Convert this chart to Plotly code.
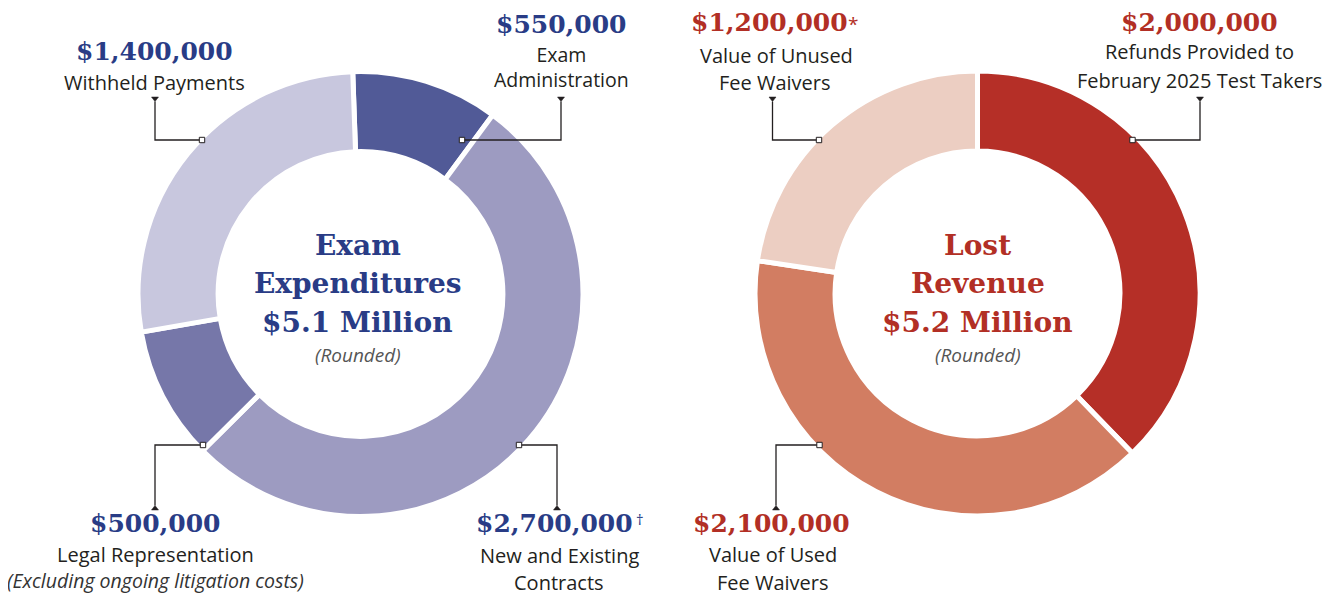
import plotly.graph_objects as go

# page body has an 8px margin; figure is sized to fit the 1333x596 window
OFF = 8
FW, FH = 1333 - OFF, 596 - OFF

# ---------------- data ----------------
exp_labels = ["Exam Administration", "New and Existing Contracts",
              "Legal Representation", "Withheld Payments"]
exp_values = [550000, 2700000, 500000, 1400000]
exp_colors = ["#515a97", "#9d9bc1", "#7677a9", "#c8c7de"]

rev_labels = ["Refunds Provided to February 2025 Test Takers",
              "Value of Used Fee Waivers", "Value of Unused Fee Waivers"]
rev_values = [2000000, 2100000, 1200000]
rev_colors = ["#b52f27", "#d27d62", "#eccec2"]

exp_title = ["Exam", "Expenditures", "$5.1 Million"]
rev_title = ["Lost", "Revenue", "$5.2 Million"]

BLUE = "#293c86"
RED = "#b22f25"
DARK = "#231f20"
SLAB = "DejaVu Serif"
SANS = "Open Sans"


def px(x):
    return (x - OFF) / FW


def py(y):
    return 1 - (y - OFF) / FH


def money(v):
    return "${:,.0f}".format(v)


# ---------------- donuts ----------------
R = 222.5
centers = [(360.5, 294.0), (977.5, 293.5)]


def domain(c):
    cx, cy = c
    return dict(x=[px(cx - R), px(cx + R)], y=[py(cy + R), py(cy - R)])


fig = go.Figure()
fig.add_trace(go.Pie(labels=exp_labels, values=exp_values, sort=False,
                     direction="clockwise", rotation=-2, hole=0.64,
                     marker=dict(colors=exp_colors, line=dict(color="white", width=5)),
                     textinfo="none", hoverinfo="label+value",
                     domain=domain(centers[0]), showlegend=False))
fig.add_trace(go.Pie(labels=rev_labels, values=rev_values, sort=False,
                     direction="clockwise", rotation=0, hole=0.64,
                     marker=dict(colors=rev_colors, line=dict(color="white", width=5)),
                     textinfo="none", hoverinfo="label+value",
                     domain=domain(centers[1]), showlegend=False))

annotations = []


def ann(text, x, y, size, color, family, weight="normal", style="normal", yanchor="middle"):
    annotations.append(dict(text=text, x=px(x), y=py(y), xref="paper", yref="paper",
                            xanchor="center", yanchor=yanchor, showarrow=False,
                            font=dict(size=size, color=color, family=family,
                                      weight=weight, style=style)))


# centre titles
for t, y in zip(exp_title, [245, 283, 322]):
    ann(t, 357.5, y, 28, BLUE, SLAB, weight="bold")
ann("(Rounded)", 357.5, 355, 19, "#555555", SANS, style="italic")
for t, y in zip(rev_title, [245, 283, 322]):
    ann(t, 977.5, y, 28, RED, SLAB, weight="bold")
ann("(Rounded)", 977.5, 355, 19, "#555555", SANS, style="italic")

# slice labels: value text + description lines
# Exam Expenditures
ann(money(exp_values[3]), 154, 52, 25, BLUE, SLAB, weight="bold")
ann("Withheld Payments", 154, 83, 20, DARK, SANS)

ann(money(exp_values[0]), 561, 25, 25, BLUE, SLAB, weight="bold")
ann("Exam<br>Administration", 561, 67, 19.5, DARK, SANS)

ann(money(exp_values[2]), 155, 523, 25, BLUE, SLAB, weight="bold")
ann("Legal Representation", 155, 554, 20, DARK, SANS)
ann("(Excluding ongoing litigation costs)", 155, 580, 19.5, "#333333", SANS, style="italic")

ann(money(exp_values[1]), 554, 523, 25, BLUE, SLAB, weight="bold")
ann("†", 640, 519, 15, BLUE, SANS)
ann("New and Existing", 559, 555, 20, DARK, SANS)
ann("Contracts", 559, 582, 20, DARK, SANS)

# Lost Revenue
ann(money(rev_values[2]), 769, 23, 25, RED, SLAB, weight="bold")
ann("*", 853, 9, 19, RED, SANS, yanchor="top")
ann("Value of Unused", 776, 55, 20, DARK, SANS)
ann("Fee Waivers", 775, 83, 20, DARK, SANS)

ann(money(rev_values[0]), 1199, 22, 25, RED, SLAB, weight="bold")
ann("Refunds Provided to", 1199, 52, 20, DARK, SANS)
ann("February 2025 Test Takers", 1199, 80, 20, DARK, SANS)

ann(money(rev_values[1]), 771, 523, 25, RED, SLAB, weight="bold")
ann("Value of Used", 773, 554, 20, DARK, SANS)
ann("Fee Waivers", 773, 582, 20, DARK, SANS)

# ---------------- leader lines ----------------
shapes = []


def leader(sq, xv, ytip, up):
    sx, sy = sq
    path = "M {},{} L {},{} L {},{}".format(px(sx), py(sy), px(xv), py(sy), px(xv), py(ytip))
    shapes.append(dict(type="path", path=path, xref="paper", yref="paper",
                       line=dict(color=DARK, width=1.3)))
    if up:
        tri = [(xv - 3.5, ytip - 4.5), (xv + 3.5, ytip - 4.5), (xv, ytip)]
    else:
        tri = [(xv - 3.5, ytip + 4.5), (xv + 3.5, ytip + 4.5), (xv, ytip)]
    tp = "M " + " L ".join("{},{}".format(px(a), py(b)) for a, b in tri) + " Z"
    shapes.append(dict(type="path", path=tp, xref="paper", yref="paper",
                       fillcolor=DARK, line=dict(color=DARK, width=0.5)))
    shapes.append(dict(type="rect", xref="paper", yref="paper",
                       x0=px(sx - 2.7), x1=px(sx + 2.7), y0=py(sy + 2.7), y1=py(sy - 2.7),
                       fillcolor="white", line=dict(color=DARK, width=1)))


leader((202, 140), 155, 101.5, True)
leader((462, 140), 561, 101.5, True)
leader((203, 445), 155, 505.5, False)
leader((519, 445), 557, 505.5, False)

leader((819, 140), 772.5, 101.5, True)
leader((1132.5, 140), 1200, 101.5, True)
leader((819.5, 445), 776, 505.5, False)

fig.update_layout(width=FW, height=FH, margin=dict(l=0, r=0, t=0, b=0),
                  paper_bgcolor="white", plot_bgcolor="white",
                  annotations=annotations, shapes=shapes)

fig.write_html("out.html")
